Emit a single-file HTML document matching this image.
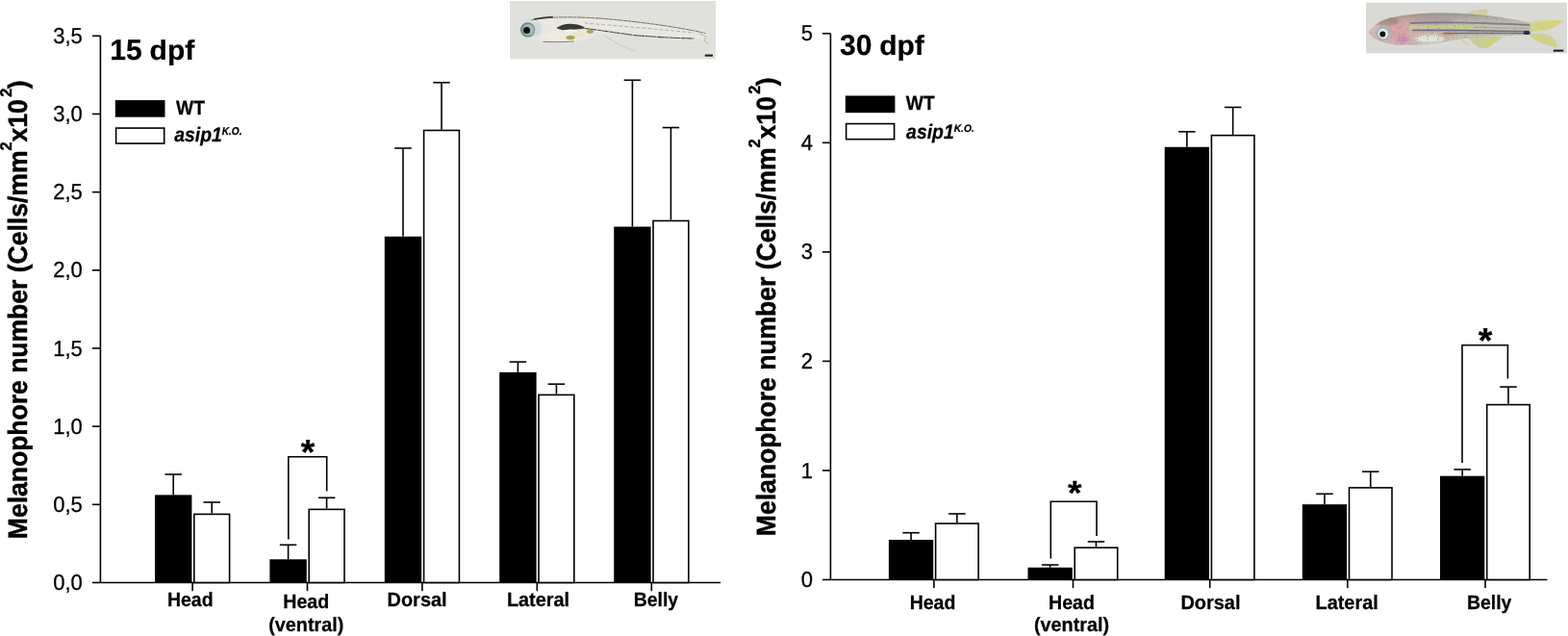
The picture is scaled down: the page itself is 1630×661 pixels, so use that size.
<!DOCTYPE html>
<html><head><meta charset="utf-8"><style>
html,body{margin:0;padding:0;background:#fff;width:1630px;height:661px;overflow:hidden}
svg{position:absolute;left:0;top:0}
text{font-family:'Liberation Sans', Arial, sans-serif;fill:#000;stroke:none;text-rendering:geometricPrecision}
.ylab{font-size:27px;font-weight:bold}
.ch text.ylab{stroke-width:0.45}
.ch text{stroke:#000;stroke-width:0.25}
.ysup{font-size:16.5px}
.ch line,.ch polyline,.ch rect{stroke:#000;stroke-width:1.6}
.ch rect.f{stroke:none;fill:#000}
</style></head><body>
<svg width="1630" height="661" viewBox="0 0 1630 661">

<defs>
 <filter id="bl1" x="-20%" y="-50%" width="140%" height="200%"><feGaussianBlur stdDeviation="0.9"/></filter>
 <filter id="bl05" x="-20%" y="-50%" width="140%" height="200%"><feGaussianBlur stdDeviation="0.45"/></filter>
 <filter id="bl2" x="-20%" y="-50%" width="140%" height="200%"><feGaussianBlur stdDeviation="1.8"/></filter>
 <linearGradient id="rbody" x1="0" x2="1" y1="0" y2="0">
  <stop offset="0" stop-color="#cdbdb8"/><stop offset="0.15" stop-color="#d3b0b0"/><stop offset="0.3" stop-color="#cfb2aa"/>
  <stop offset="0.45" stop-color="#c4bdb4"/><stop offset="1" stop-color="#c6c4ba"/>
 </linearGradient>
</defs>
<g class="fish" stroke="none">
 <!-- left larva -->
 <rect x="530" y="1" width="214.1" height="60.5" fill="#e0e0dc"/>
 <g filter="url(#bl1)">
  <path d="M541,29 C543,24 550,20 560,18.5 C590,16.5 640,20 690,26 C712,29 728,32 734,34 L735,41 C715,40.5 680,38.5 650,36 C630,35 620,35.5 610,40 C600,43.5 585,44 570,43.5 C558,43 548,40 543,36 Z" fill="#e8e7e1"/>
  <ellipse cx="588" cy="37" rx="22" ry="6" fill="#eeebe0"/>
  <ellipse cx="600" cy="36" rx="8" ry="3" fill="#e6e2cc"/>
  <ellipse cx="553" cy="30" rx="11" ry="9" fill="#d3dadc"/>
 </g>
 <g filter="url(#bl05)" fill="none" stroke-linecap="round">
  <path d="M553,20.5 C575,16.5 610,17.5 640,20.5 C680,24.5 715,30 733,34.5" stroke="#5c5a46" stroke-width="0.9" stroke-dasharray="3 1 1 1 2 1.5"/>
  <path d="M556,19.8 C562,18.6 568,18 574,17.6" stroke="#3e3c2c" stroke-width="1.8"/>
  <path d="M609,29.6 C618,30.6 630,32.6 660,36.7 C690,39 710,39.8 721,40" stroke="#4e4c3e" stroke-width="1.1" stroke-dasharray="4 1 2 1 3 1.5"/>
  <path d="M608,24 C640,26.5 690,31 722,34" stroke="#8b8a78" stroke-width="0.6" stroke-dasharray="3 3"/>
  <path d="M565,43.4 C580,43.8 590,43.6 596,43" stroke="#6a685a" stroke-width="0.9" stroke-dasharray="3 1"/>
  <path d="M727,35 L734,38 L732,42 L736,45" stroke="#9a9888" stroke-width="0.6"/>
  <path d="M628,37 C636,42 645,48 660,53" stroke="#b4b8bc" stroke-width="0.5"/>
 </g>
 <g filter="url(#bl05)">
  <path d="M578.4,29 C584,25 592,23.8 600,25.5 C604,26.5 607,28 609,29.5 C600,30.5 592,31.2 585,31.2 C582,30.8 580,30 578.4,29 Z" fill="#383a30"/>
  <ellipse cx="593" cy="32" rx="6.5" ry="1.4" fill="#f6f5ef"/>
  <ellipse cx="593" cy="39.1" rx="4.6" ry="2.1" fill="#ada055"/>
  <ellipse cx="613.4" cy="32.7" rx="3.6" ry="2" fill="#b2a65e"/>
 </g>
 <g filter="url(#bl05)">
  <circle cx="548.6" cy="31" r="7.7" fill="#6f8f98"/>
  <circle cx="549.3" cy="31" r="6" fill="#a7bcae"/>
  <circle cx="547.6" cy="31.6" r="3.5" fill="#101010"/>
 </g>
 <rect x="732.8" y="56.6" width="8.2" height="2.1" fill="#1c1c1c"/>

 <!-- right juvenile -->
 <rect x="1420" y="2.7" width="208.9" height="52.7" fill="#d9d9d5"/>
 <g filter="url(#bl05)">
  <path d="M1523,15.5 C1526,12 1534,9.5 1545,9.8 C1548,11.5 1547,14.5 1544,16.8 L1528,17.5 Z" fill="#d0d0a4"/>
  <path d="M1525,38 L1563,38.3 C1557,42 1551,46.5 1546,50 L1537,49.5 C1531,45 1528,41 1525,38 Z" fill="#c9cb9a"/>
  <path d="M1540,44 L1557,40 L1548,48 Z" fill="#cfd46c"/>
  <path d="M1519,39 C1522,42 1525,45 1528,47.5 L1525,48 C1521,44.5 1519,41.5 1517,39 Z" fill="#d8d0a8"/>
  <path d="M1588,23.5 C1597,21.5 1610,20.5 1625,21.5 C1622,24 1618,27.5 1612,30 C1606,32 1598,33 1590,32.5 Z" fill="#d3d38e"/>
  <path d="M1589,34 C1597,34.5 1606,35 1612,37 C1616,41 1619,45 1619,49 C1610,48.5 1602,45 1594,40 L1589,37 Z" fill="#d0d092"/>
  <path d="M1596,25 L1622,22.5 M1598,29 L1615,28 M1598,38 L1616,47" stroke="#d4d466" stroke-width="1.4" fill="none"/>
 </g>
 <clipPath id="rclip"><path d="M1422.5,34 C1426,28 1433,22 1445,18.5 C1460,15 1480,13.4 1500,13.4 C1530,13.8 1560,17 1590,23.5 L1593,30 L1591,36.5 C1575,36.5 1550,37.5 1530,39 C1512,41 1502,44 1490,45.3 C1477,46.3 1465,47 1455,47 C1443,46 1434,43 1427,39 Z"/></clipPath>
 <filter id="speck" x="0" y="0" width="100%" height="100%">
  <feTurbulence type="fractalNoise" baseFrequency="0.9" numOctaves="1" seed="3" result="n"/>
  <feColorMatrix in="n" type="matrix" values="0 0 0 0 0.25  0 0 0 0 0.24  0 0 0 0 0.26  0 0 0 -13 4.9" />
 </filter>
 <linearGradient id="rback" x1="0" x2="0" y1="0" y2="1">
  <stop offset="0" stop-color="#6a665a" stop-opacity="0.55"/><stop offset="0.35" stop-color="#8a8478" stop-opacity="0.15"/>
  <stop offset="0.7" stop-color="#fff" stop-opacity="0"/><stop offset="1" stop-color="#fff" stop-opacity="0"/>
 </linearGradient>
 <g clip-path="url(#rclip)">
  <rect x="1420" y="10" width="175" height="40" fill="url(#rbody)" filter="url(#bl05)"/>
  <g filter="url(#bl1)">
   <ellipse cx="1452" cy="31" rx="12" ry="10" fill="#d9a3a4"/>
   <ellipse cx="1490" cy="22" rx="22" ry="4" fill="#c4a6b2"/>
   <ellipse cx="1486" cy="40.5" rx="15" ry="4" fill="#e0e6d8"/>
   <ellipse cx="1458" cy="41" rx="6" ry="4" fill="#c98cb8"/>
   <ellipse cx="1505" cy="36" rx="10" ry="2.4" fill="#d4a894"/>
   <ellipse cx="1442" cy="22" rx="12" ry="4.5" fill="#8a8270" opacity="0.6"/>
  </g>
  <rect x="1420" y="12" width="175" height="30" fill="url(#rback)"/>
  <g filter="url(#bl05)" fill="none">
   <path d="M1466,24 C1500,22.5 1540,23.5 1590,26" stroke="#6d6470" stroke-width="1.8" opacity="0.75"/>
   <path d="M1466,28 C1490,27.2 1510,27.6 1532,28.4" stroke="#bcd47a" stroke-width="2.4"/>
   <path d="M1532,28.4 C1552,28.8 1570,29.2 1590,29.6" stroke="#a8b090" stroke-width="1.6"/>
   <path d="M1468,31.5 C1500,31 1540,32 1590,32.5" stroke="#5c5868" stroke-width="1.6" opacity="0.8"/>
   <path d="M1500,34.6 C1530,34.3 1560,34.6 1590,34.6" stroke="#555c70" stroke-width="1.4" opacity="0.8"/>
  </g>
  <rect x="1420" y="10" width="175" height="40" filter="url(#speck)" opacity="0.55"/>
 </g>
 <g filter="url(#bl05)">
  <circle cx="1438.1" cy="34.9" r="7.2" fill="#9ab4c2"/>
  <circle cx="1437.8" cy="35.1" r="5.3" fill="#e4eadf"/>
  <circle cx="1437.3" cy="35.4" r="3" fill="#101010"/>
 </g>
 <ellipse cx="1587" cy="34" rx="3.5" ry="2" fill="#2a2e44" filter="url(#bl05)"/>
 <rect x="1614.8" y="51.6" width="10.5" height="2.1" fill="#1c1c1c"/>
</g>

<g class="ch">
<line x1="104.4" y1="37.3" x2="104.4" y2="605.5" />
<line x1="104.4" y1="605.5" x2="749.2" y2="605.5" />
<line x1="95.9" y1="605.50" x2="104.4" y2="605.50" />
<text style="font-size:22px" text-anchor="end" transform="matrix(1,0,0,1.0430,85.78,613.04)">0,0</text>
<line x1="95.9" y1="524.33" x2="104.4" y2="524.33" />
<text style="font-size:22px" text-anchor="end" transform="matrix(1,0,0,1.0430,85.78,531.88)">0,5</text>
<line x1="95.9" y1="443.16" x2="104.4" y2="443.16" />
<text style="font-size:22px" text-anchor="end" transform="matrix(1,0,0,1.0430,85.78,450.70)">1,0</text>
<line x1="95.9" y1="361.99" x2="104.4" y2="361.99" />
<text style="font-size:22px" text-anchor="end" transform="matrix(1,0,0,1.0430,85.78,369.53)">1,5</text>
<line x1="95.9" y1="280.82" x2="104.4" y2="280.82" />
<text style="font-size:22px" text-anchor="end" transform="matrix(1,0,0,1.0430,85.78,288.36)">2,0</text>
<line x1="95.9" y1="199.65" x2="104.4" y2="199.65" />
<text style="font-size:22px" text-anchor="end" transform="matrix(1,0,0,1.0430,85.78,207.19)">2,5</text>
<line x1="95.9" y1="118.48" x2="104.4" y2="118.48" />
<text style="font-size:22px" text-anchor="end" transform="matrix(1,0,0,1.0430,85.78,126.03)">3,0</text>
<line x1="95.9" y1="37.31" x2="104.4" y2="37.31" />
<text style="font-size:22px" text-anchor="end" transform="matrix(1,0,0,1.0430,85.78,44.85)">3,5</text>
<line x1="200.1" y1="605.5" x2="200.1" y2="614.3" />
<rect class="f" x="161.00" y="514.4" width="38.40" height="91.10"/>
<line x1="180.20" y1="514.4" x2="180.20" y2="493" />
<line x1="171.45" y1="493" x2="188.95" y2="493" />
<rect x="201.80" y="534.40" width="36.80" height="71.10" fill="#fff" />
<line x1="220.20" y1="533.6" x2="220.20" y2="522" />
<line x1="211.45" y1="522" x2="228.95" y2="522" />
<line x1="319.5" y1="605.5" x2="319.5" y2="614.3" />
<rect class="f" x="280.40" y="581.3" width="38.40" height="24.20"/>
<line x1="299.60" y1="581.3" x2="299.60" y2="566.3" />
<line x1="290.85" y1="566.3" x2="308.35" y2="566.3" />
<rect x="321.20" y="529.40" width="36.80" height="76.10" fill="#fff" />
<line x1="339.60" y1="528.6" x2="339.60" y2="517.3" />
<line x1="330.85" y1="517.3" x2="348.35" y2="517.3" />
<line x1="438.9" y1="605.5" x2="438.9" y2="614.3" />
<rect class="f" x="399.80" y="245.8" width="38.40" height="359.70"/>
<line x1="419.00" y1="245.8" x2="419.00" y2="154.0" />
<line x1="410.25" y1="154.0" x2="427.75" y2="154.0" />
<rect x="440.60" y="135.50" width="36.80" height="470.00" fill="#fff" />
<line x1="459.00" y1="134.7" x2="459.00" y2="85.8" />
<line x1="450.25" y1="85.8" x2="467.75" y2="85.8" />
<line x1="558.3" y1="605.5" x2="558.3" y2="614.3" />
<rect class="f" x="519.20" y="386.9" width="38.40" height="218.60"/>
<line x1="538.40" y1="386.9" x2="538.40" y2="376.1" />
<line x1="529.65" y1="376.1" x2="547.15" y2="376.1" />
<rect x="560.00" y="410.40" width="36.80" height="195.10" fill="#fff" />
<line x1="578.40" y1="409.6" x2="578.40" y2="399.2" />
<line x1="569.65" y1="399.2" x2="587.15" y2="399.2" />
<line x1="677.3" y1="605.5" x2="677.3" y2="614.3" />
<rect class="f" x="638.20" y="235.6" width="38.40" height="369.90"/>
<line x1="657.40" y1="235.6" x2="657.40" y2="83.3" />
<line x1="648.65" y1="83.3" x2="666.15" y2="83.3" />
<rect x="679.00" y="229.50" width="36.80" height="376.00" fill="#fff" />
<line x1="697.40" y1="228.7" x2="697.40" y2="132.6" />
<line x1="688.65" y1="132.6" x2="706.15" y2="132.6" />
<polyline fill="none" points="299.8,560.6 299.8,474.7 339.7,474.7 339.7,510.6" />
<text style="font-size:30px;font-weight:bold" transform="matrix(1.2455,0,0,1.2000,312.70,482.00)">*</text>
<rect class="f" x="119.8" y="104.1" width="51.70" height="17.60"/>
<rect x="120.6" y="133.10000000000002" width="50.10" height="16.00" fill="#fff"/>
<text style="font-size:30px;font-weight:bold" transform="matrix(1.0000,0,0,1.0000,114.20,61.90)">15</text>
<text style="font-size:30px;font-weight:bold" transform="matrix(1.0000,0,0,0.9600,155.60,61.90)">dpf</text>
<text style="font-size:20px;font-weight:bold" transform="matrix(0.9600,0,0,1.0300,183.10,118.90)">WT</text>
<text style="font-size:20px;font-weight:bold;font-style:italic" transform="matrix(0.9700,0,0,1.0500,181.20,146.60)">asip1</text>
<text style="font-size:11px;font-weight:bold;font-style:italic" transform="matrix(0.9200,0,0,1.0300,230.70,139.80)">K.O.</text>
<text style="font-size:20px;font-weight:bold" transform="matrix(0.9750,0,0,1.0200,173.91,630.00)">Head</text>
<text style="font-size:20px;font-weight:bold" transform="matrix(0.9800,0,0,1.0200,294.24,632.40)">Head</text>
<text style="font-size:20px;font-weight:bold" transform="matrix(0.9900,0,0,1.0200,279.19,655.60)">(ventral)</text>
<text style="font-size:20px;font-weight:bold" transform="matrix(0.9970,0,0,1.0200,402.54,630.30)">Dorsal</text>
<text style="font-size:20px;font-weight:bold" transform="matrix(0.9930,0,0,1.0200,526.93,630.30)">Lateral</text>
<text style="font-size:20px;font-weight:bold" transform="matrix(0.9700,0,0,1.0200,658.77,630.10)">Belly</text>
<line x1="863.4" y1="34.8" x2="863.4" y2="602.5" />
<line x1="863.4" y1="602.5" x2="1608.4" y2="602.5" />
<line x1="854.9" y1="602.50" x2="863.4" y2="602.50" />
<text style="font-size:22px" text-anchor="end" transform="matrix(1,0,0,1.0430,844.98,610.04)">0</text>
<line x1="854.9" y1="488.96" x2="863.4" y2="488.96" />
<text style="font-size:22px" text-anchor="end" transform="matrix(1,0,0,1.0430,844.98,496.50)">1</text>
<line x1="854.9" y1="375.42" x2="863.4" y2="375.42" />
<text style="font-size:22px" text-anchor="end" transform="matrix(1,0,0,1.0430,844.98,382.96)">2</text>
<line x1="854.9" y1="261.88" x2="863.4" y2="261.88" />
<text style="font-size:22px" text-anchor="end" transform="matrix(1,0,0,1.0430,844.98,269.43)">3</text>
<line x1="854.9" y1="148.34" x2="863.4" y2="148.34" />
<text style="font-size:22px" text-anchor="end" transform="matrix(1,0,0,1.0430,844.98,155.88)">4</text>
<line x1="854.9" y1="34.80" x2="863.4" y2="34.80" />
<text style="font-size:22px" text-anchor="end" transform="matrix(1,0,0,1.0430,844.98,42.34)">5</text>
<line x1="970.9" y1="602.5" x2="970.9" y2="611.1" />
<rect class="f" x="923.90" y="561" width="46.30" height="41.50"/>
<line x1="947.05" y1="561" x2="947.05" y2="553.7" />
<line x1="938.30" y1="553.7" x2="955.80" y2="553.7" />
<rect x="972.60" y="544.10" width="44.50" height="58.40" fill="#fff" />
<line x1="994.85" y1="543.3" x2="994.85" y2="534" />
<line x1="986.10" y1="534" x2="1003.60" y2="534" />
<line x1="1115.5" y1="602.5" x2="1115.5" y2="611.1" />
<rect class="f" x="1068.50" y="589.8" width="46.30" height="12.70"/>
<line x1="1091.65" y1="589.8" x2="1091.65" y2="587.1" />
<line x1="1082.90" y1="587.1" x2="1100.40" y2="587.1" />
<rect x="1117.20" y="569.20" width="44.50" height="33.30" fill="#fff" />
<line x1="1139.45" y1="568.4" x2="1139.45" y2="563" />
<line x1="1130.70" y1="563" x2="1148.20" y2="563" />
<line x1="1257.7" y1="602.5" x2="1257.7" y2="611.1" />
<rect class="f" x="1210.70" y="152.8" width="46.30" height="449.70"/>
<line x1="1233.85" y1="152.8" x2="1233.85" y2="136.9" />
<line x1="1225.10" y1="136.9" x2="1242.60" y2="136.9" />
<rect x="1259.40" y="140.70" width="44.50" height="461.80" fill="#fff" />
<line x1="1281.65" y1="139.9" x2="1281.65" y2="111.5" />
<line x1="1272.90" y1="111.5" x2="1290.40" y2="111.5" />
<line x1="1400.8" y1="602.5" x2="1400.8" y2="611.1" />
<rect class="f" x="1353.80" y="524.2" width="46.30" height="78.30"/>
<line x1="1376.95" y1="524.2" x2="1376.95" y2="513.3" />
<line x1="1368.20" y1="513.3" x2="1385.70" y2="513.3" />
<rect x="1402.50" y="506.90" width="44.50" height="95.60" fill="#fff" />
<line x1="1424.75" y1="506.1" x2="1424.75" y2="490.2" />
<line x1="1416.00" y1="490.2" x2="1433.50" y2="490.2" />
<line x1="1544" y1="602.5" x2="1544" y2="611.1" />
<rect class="f" x="1497.00" y="494.7" width="46.30" height="107.80"/>
<line x1="1520.15" y1="494.7" x2="1520.15" y2="487.9" />
<line x1="1511.40" y1="487.9" x2="1528.90" y2="487.9" />
<rect x="1545.70" y="420.60" width="44.50" height="181.90" fill="#fff" />
<line x1="1567.95" y1="419.8" x2="1567.95" y2="402.1" />
<line x1="1559.20" y1="402.1" x2="1576.70" y2="402.1" />
<polyline fill="none" points="1092.3,580.4 1092.3,521.2 1140,521.2 1140,557" />
<text style="font-size:30px;font-weight:bold" transform="matrix(1.2364,0,0,1.1636,1110.10,523.54)">*</text>
<polyline fill="none" points="1520,481.1 1520,358.8 1567.4,358.8 1567.4,393.5" />
<text style="font-size:30px;font-weight:bold" transform="matrix(1.2545,0,0,1.2000,1536.70,365.80)">*</text>
<rect class="f" x="878.8" y="99.5" width="51.60" height="17.70"/>
<rect x="879.5999999999999" y="128.6" width="50.00" height="16.10" fill="#fff"/>
<text style="font-size:30px;font-weight:bold" transform="matrix(1.0000,0,0,1.0000,873.00,57.00)">30</text>
<text style="font-size:30px;font-weight:bold" transform="matrix(1.0000,0,0,0.9600,914.20,57.00)">dpf</text>
<text style="font-size:20px;font-weight:bold" transform="matrix(0.9600,0,0,1.0300,941.80,114.30)">WT</text>
<text style="font-size:20px;font-weight:bold;font-style:italic" transform="matrix(0.9700,0,0,1.0500,942.10,143.60)">asip1</text>
<text style="font-size:11px;font-weight:bold;font-style:italic" transform="matrix(0.9300,0,0,0.9800,991.70,136.70)">K.O.</text>
<text style="font-size:20px;font-weight:bold" transform="matrix(0.9750,0,0,1.0200,945.66,633.20)">Head</text>
<text style="font-size:20px;font-weight:bold" transform="matrix(0.9800,0,0,1.0200,1089.99,633.20)">Head</text>
<text style="font-size:20px;font-weight:bold" transform="matrix(0.9900,0,0,1.0200,1074.99,656.40)">(ventral)</text>
<text style="font-size:20px;font-weight:bold" transform="matrix(0.9970,0,0,1.0200,1227.39,633.30)">Dorsal</text>
<text style="font-size:20px;font-weight:bold" transform="matrix(0.9930,0,0,1.0200,1367.58,633.30)">Lateral</text>
<text style="font-size:20px;font-weight:bold" transform="matrix(0.9700,0,0,1.0200,1525.02,632.80)">Belly</text>
<g transform="translate(0,0)"><text class="ylab" transform="translate(28.0,560.2) rotate(-90) scale(0.982,1.03)">Melanophore number (Cells/mm<tspan class="ysup" dy="-15.2">2</tspan><tspan dy="15.2">x10</tspan><tspan class="ysup" dy="-15.2" dx="2.5">2</tspan><tspan dy="15.2" dx="-0.5">)</tspan></text></g>
<g transform="translate(777.8,-3.0)"><text class="ylab" transform="translate(28.0,560.2) rotate(-90) scale(0.982,1.03)">Melanophore number (Cells/mm<tspan class="ysup" dy="-15.2">2</tspan><tspan dy="15.2">x10</tspan><tspan class="ysup" dy="-15.2" dx="2.5">2</tspan><tspan dy="15.2" dx="-0.5">)</tspan></text></g>
</g>
</svg>
</body></html>
